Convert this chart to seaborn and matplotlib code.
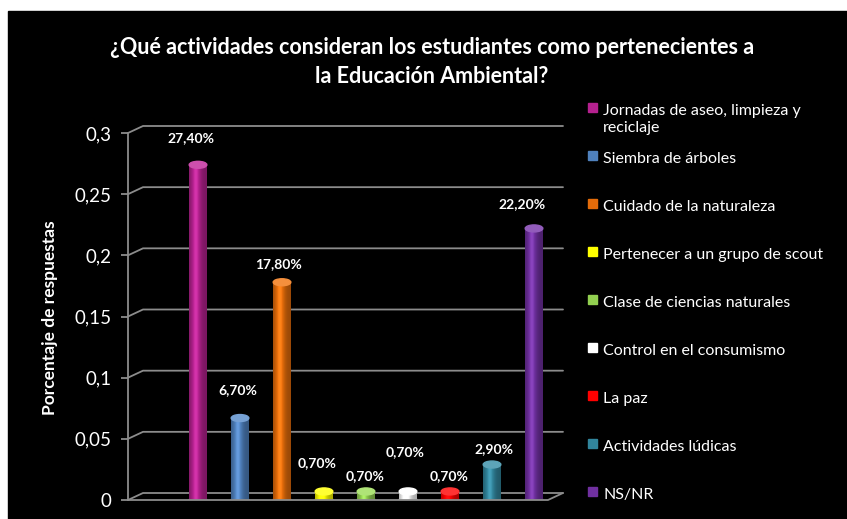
import numpy as np
import matplotlib
matplotlib.use("Agg")
import matplotlib.pyplot as plt
from matplotlib.patches import Rectangle, Ellipse
from matplotlib.ticker import FuncFormatter
from matplotlib.colors import to_rgb
import seaborn as sns

# data
categories = ["Jornadas de aseo, limpieza y\nreciclaje", "Siembra de árboles",
              "Cuidado de la naturaleza", "Pertenecer a un grupo de scout",
              "Clase de ciencias naturales", "Control en el consumismo",
              "La paz", "Actividades lúdicas", "NS/NR"]
values = [0.274, 0.067, 0.178, 0.007, 0.007, 0.007, 0.007, 0.029, 0.222]
colors = ["#B5218F", "#4F81BD", "#E46C0A", "#FFFF00", "#92D050",
          "#FFFFFF", "#FF0000", "#31859C", "#7030A0"]
yticks = [0, 0.05, 0.1, 0.15, 0.2, 0.25, 0.3]

# label placement tweaks (pixels), Excel puts them a bit unevenly
label_dy = [27, 28, 18, 28, 15, 39, 15, 15, 24]
label_dx = [-7, -2, -4, -7, -1, -3, -1, 2, -12]

sns.set_style("dark")
plt.rcParams["font.family"] = ["Lato", "DejaVu Sans"]

W, H = 847, 519
fig = plt.figure(figsize=(W / 100, H / 100), dpi=100, facecolor="white")
fig.add_artist(Rectangle((8 / W, 0), 1, (H - 11) / H, transform=fig.transFigure,
                         color="black", zorder=-5))

ax_l, ax_r, ax_b, ax_t = 128, 548, 500, 133
ax = fig.add_axes([ax_l / W, (H - ax_b) / H, (ax_r - ax_l) / W, (ax_b - ax_t) / H])
ax.set_facecolor("none")

xlim = (-1.667, 8.333)
ylim = (0, 0.3)

sns.barplot(x=list(range(len(values))), y=values, hue=list(range(len(values))),
            palette=colors, legend=False, width=0.42, ax=ax, zorder=3,
            saturation=1)

# cylinder shading
prof = np.linspace(0, 1, 60)
shade = 0.68 + 0.42 * np.exp(-((prof - 0.38) / 0.28) ** 2)
ell_h = 7 * (ylim[1] - ylim[0]) / (ax_b - ax_t)
for patch, c in zip(ax.patches[:len(values)], colors):
    x0, w, h = patch.get_x(), patch.get_width(), patch.get_height()
    rgb = np.array(to_rgb(c))
    img = np.clip(rgb[None, :] * shade[:, None] + (shade[:, None] - 1).clip(0) * 0.6, 0, 1)
    img = img[None, :, :]
    patch.set_visible(False)
    ax.add_patch(Ellipse((x0 + w / 2, 0), w, ell_h, color=tuple(rgb * 0.8), zorder=3))
    ax.imshow(img, extent=[x0, x0 + w, 0, h], aspect="auto", zorder=4,
              interpolation="bilinear")
    top = np.clip(rgb * 0.85 + 0.2, 0, 1)
    ax.add_patch(Ellipse((x0 + w / 2, h), w, ell_h, color=tuple(top), zorder=5))

ax.set_xlim(*xlim)
ax.set_ylim(*ylim)

# 3d style gridlines and floor
dx = 15 * (xlim[1] - xlim[0]) / (ax_r - ax_l)
dy = 7 * (ylim[1] - ylim[0]) / (ax_b - ax_t)
gc = "#8C8C8C"
for v in yticks:
    ax.plot([xlim[0], xlim[0] + dx, xlim[1] + dx], [v, v + dy, v + dy],
            color=gc, lw=1.3, clip_on=False, zorder=1)
ax.plot([xlim[0], xlim[1], xlim[1] + dx], [0, 0, dy], color=gc, lw=1.3,
        clip_on=False, zorder=6)

for sp in ["top", "right", "bottom"]:
    ax.spines[sp].set_visible(False)
ax.spines["left"].set_color(gc)
ax.spines["left"].set_linewidth(1.3)
ax.set_yticks(yticks)
ax.yaxis.set_major_formatter(FuncFormatter(lambda v, p: f"{v:g}".replace(".", ",")))
ax.tick_params(axis="y", colors=gc, labelcolor="white", labelsize=13.5,
               length=5, width=1.3, pad=7, left=True)
ax.set_xticks([])
ax.set_xlabel("")
ax.set_ylabel("")
ax.grid(False)

for i, v in enumerate(values):
    txt = f"{v * 100:.2f}%".replace(".", ",")
    ax.annotate(txt, xy=(i, v), xytext=(label_dx[i], label_dy[i]),
                textcoords="offset pixels", ha="center", va="center",
                color="white", fontsize=10, fontweight="bold", zorder=7)

# title and axis label
fig.text(432 / W, 1 - 62 / H,
         "¿Qué actividades consideran los estudiantes como pertenecientes a\n"
         "la Educación Ambiental?",
         ha="center", va="center", color="white", fontsize=15.5,
         fontweight="bold", linespacing=1.45)
fig.text(50 / W, 1 - 318 / H, "Porcentaje de respuestas", rotation=90,
         ha="center", va="center", color="white", fontsize=12.5,
         fontweight="bold")

# legend on the right
for i, (lab, c) in enumerate(zip(categories, colors)):
    yc = 110 + 48 * i
    fig.add_artist(Rectangle((588 / W, 1 - (yc + 2) / H), 9 / W, 9 / H,
                             transform=fig.transFigure, color=c))
    fig.text(603 / W, 1 - (yc - 6) / H, lab, ha="left", va="top",
             color="white", fontsize=11.5, linespacing=1.25)

fig.savefig("out.png", dpi=100, facecolor=fig.get_facecolor())
plt.close(fig)
